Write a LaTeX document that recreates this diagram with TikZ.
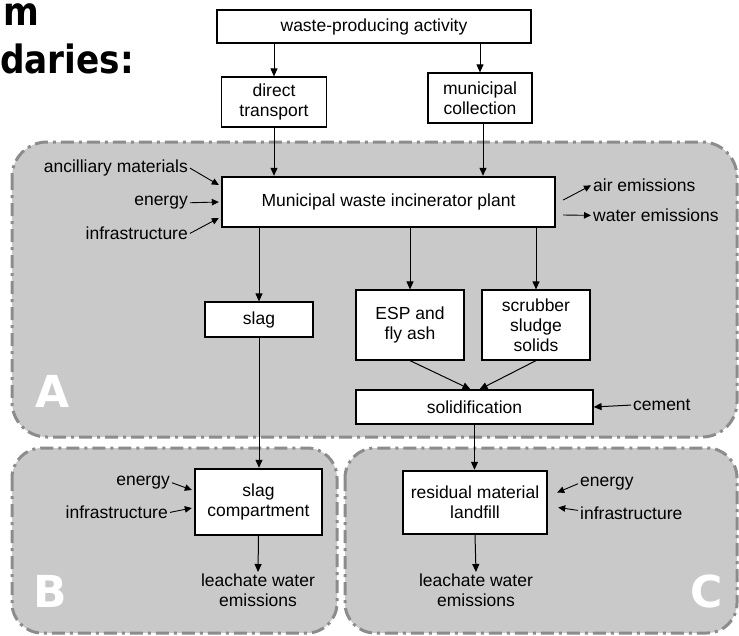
\documentclass[tikz,border=0pt]{standalone}
\usepackage{fontspec}
\setmainfont{Liberation Sans}
\newfontfamily\titlefont{DejaVu Sans}[FakeStretch=0.88]
\newfontfamily\letterfont{DejaVu Sans}
\usetikzlibrary{arrows.meta,calc}
\definecolor{regfill}{RGB}{201,201,201}
\definecolor{regdraw}{RGB}{140,140,140}
\begin{document}
\begin{tikzpicture}[x=1pt,y=-1pt,
  txt/.style={font=\fontsize{17.5}{20}\selectfont},
  box/.style={txt, draw, line width=1.2pt, fill=white, inner sep=0pt, align=center},
  thickbox/.style={box, line width=2.4pt},
  lbl/.style={txt, inner sep=2pt, align=center},
  arr/.style={line width=1pt, -{Triangle[length=8pt,width=7pt]}},
  sarr/.style={line width=0.9pt, -{Triangle[length=7pt,width=6.5pt]}},
  region/.style={fill=regfill, draw=regdraw, line width=3pt,
     dash pattern=on 13pt off 5pt on 3pt off 5pt, rounded corners=35pt},
  reglbl/.style={text=white, inner sep=0pt, anchor=base west,
     font=\letterfont\bfseries\fontsize{44}{44}\selectfont},
  ttl/.style={inner sep=0pt, anchor=base west,
     font=\titlefont\bfseries\fontsize{39}{40}\selectfont}]
\useasboundingbox (0,0) rectangle (739,635);

% regions
\draw[region] (12,142) rectangle (737,437);
\draw[region, rounded corners=30pt] (12,448) rectangle (337,633);
\draw[region, rounded corners=30pt] (345,448) rectangle (737,633);
\node[reglbl] (lA) at (35,407) {A};
\node[reglbl] (lB) at (33,607) {B};
\node[reglbl] (lC) at (690,607) {C};

% title fragments
\node[ttl] (t1) at (3,25) {m};
\node[ttl] (t2) at (0,73) {daries:};

% boxes
\node[box, minimum width=314pt, minimum height=33pt] (wpa) at (374,26.5) {waste-producing activity};
\node[box, minimum width=105pt, minimum height=50pt] (dt) at (274,102) {direct\\transport};
\node[box, minimum width=104pt, minimum height=50pt] (mc) at (480,98) {municipal\\collection};
\node[thickbox, minimum width=333pt, minimum height=50pt] (plant) at (388.5,202) {Municipal waste incinerator plant};
\node[box, minimum width=108pt, minimum height=35pt] (slag) at (259,319.5) {slag};
\node[box, minimum width=108pt, minimum height=70pt] (esp) at (410,325) {ESP and\\fly ash};
\node[box, minimum width=108pt, minimum height=70pt] (scr) at (536,325) {scrubber\\sludge\\solids};
\node[box, minimum width=237pt, minimum height=34pt] (sol) at (474.5,407) {solidification};
\node[thickbox, minimum width=127pt, minimum height=66pt] (comp) at (258.5,502) {slag\\compartment};
\node[thickbox, minimum width=144pt, minimum height=63pt] (land) at (475,502.5) {residual material\\landfill};

% labels
\node[lbl, anchor=mid east] (anc) at (190,170) {ancilliary materials};
\node[lbl, anchor=mid east] (enA) at (190,203) {energy};
\node[lbl, anchor=mid east] (infA) at (190,237) {infrastructure};
\node[lbl, anchor=mid west] (air) at (591,189) {air emissions};
\node[lbl, anchor=mid west] (wat) at (591,219) {water emissions};
\node[lbl, anchor=mid west] (cem) at (631,408) {cement};
\node[lbl, anchor=mid east] (enB) at (172,483) {energy};
\node[lbl, anchor=mid east] (infB) at (170,516) {infrastructure};
\node[lbl, anchor=mid west] (enC) at (578,484) {energy};
\node[lbl, anchor=mid west] (infC) at (578,517) {infrastructure};
\node[lbl, anchor=north] (leB) at (258,572) {leachate water\\emissions};
\node[lbl, anchor=north] (leC) at (476,572) {leachate water\\emissions};

% connectors
\draw[arr] (dt.north |- wpa.south) -- (dt.north);
\draw[arr] (mc.north |- wpa.south) -- (mc.north);
\draw[arr] (dt.south) -- (dt.south |- plant.north);
\draw[arr] ([xshift=3pt]mc.south) -- ([xshift=3pt]mc.south |- plant.north);
\draw[arr] (slag.north |- plant.south) -- (slag.north);
\draw[arr] (esp.north |- plant.south) -- (esp.north);
\draw[arr] (scr.north |- plant.south) -- (scr.north);
\draw[arr] (esp.south) -- ([xshift=-4pt]sol.north);
\draw[arr] (scr.south) -- ([xshift=5pt]sol.north);
\draw[arr] (cem.west) -- (sol.east);
\draw[arr] (sol.south) -- (sol.south |- land.north);
\draw[arr] (slag.south) -- (slag.south |- comp.north);
\draw[arr] (comp.south) -- (leB.north);
\draw[arr] (land.south) -- (leC.north);

\draw[sarr] (anc.east) -- ([xshift=-2pt,yshift=17pt]plant.west);
\draw[sarr] (enA.east) -- ([xshift=-2pt]plant.west);
\draw[sarr] (infA.east) -- ([xshift=-2pt,yshift=-16pt]plant.west);
\draw[sarr] ([xshift=7pt,yshift=2pt]plant.east) -- (air.west);
\draw[sarr] ([xshift=7pt,yshift=-13pt]plant.east) -- (wat.west);
\draw[sarr] (enB.east) -- ([xshift=-2pt,yshift=12pt]comp.west);
\draw[sarr] (infB.east) -- ([xshift=-2pt,yshift=-6pt]comp.west);
\draw[sarr] (enC.west) -- ([xshift=9pt,yshift=10pt]land.east);
\draw[sarr] ([yshift=3pt]infC.west) -- ([xshift=10pt,yshift=-5pt]land.east);
\end{tikzpicture}
\end{document}
